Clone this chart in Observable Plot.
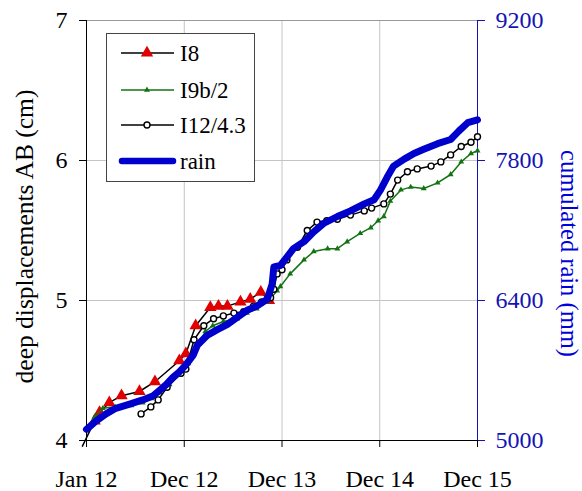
<!DOCTYPE html>
<html><head><meta charset="utf-8">
<script src="https://cdn.jsdelivr.net/npm/d3@7"></script>
<script src="https://cdn.jsdelivr.net/npm/@observablehq/plot@0.6"></script>
<style>
body{margin:0;background:#fff;}
#wrap{position:relative;width:582px;height:491px;font-family:"Liberation Serif","Times New Roman",serif;}
#legend{position:absolute;left:106px;top:33px;width:147px;height:147px;border:1px solid #444;background:#fff;}
#legend svg{display:block;}
</style></head><body><div id="wrap"><div id="legend"></div></div>
<script>
// x in months since Jan 2012 (axis labels evenly spaced)
const xTickMonths = [0, 12, 24, 36, 48];
const xTickLabels = ["Jan 12", "Dec 12", "Dec 13", "Dec 14", "Dec 15"];
const dispTicks = [4, 5, 6, 7];
const rainTicks = [5000, 6400, 7800, 9200];
const seriesNames = ["I8", "I9b/2", "I12/4.3", "rain"];
const leftTitle = "deep displacements AB (cm)";
const rightTitle = "cumulated rain (mm)";

const i8Month = [-0.5, 1.0, 1.6, 2.8, 4.3, 6.5, 8.4, 11.4, 12.2, 13.4, 15.2, 16.2, 17.3, 18.9, 20.1, 21.4, 22.4];
const i8Disp  = [3.96, 4.14, 4.20, 4.27, 4.32, 4.35, 4.42, 4.57, 4.62, 4.82, 4.95, 4.96, 4.96, 4.99, 5.01, 5.06, 5.00];

const i9Month = [0, 1.0, 2.0, 3.5, 5.5, 6.9, 8.0, 9.0, 10.2, 11.5, 12.5, 13.5, 14.6, 15.5, 16.8, 18.5, 19.7, 20.9, 22.2, 23.4, 23.8, 25.0, 26.7, 27.9, 29.6, 30.8, 32.0, 33.6, 34.9, 35.8, 36.5, 37.3, 38.6, 39.8, 41.4, 43.1, 44.7, 46.0, 47.2, 48.0];
const i9Disp  = [4.08, 4.17, 4.23, 4.24, 4.25, 4.27, 4.30, 4.34, 4.40, 4.47, 4.55, 4.66, 4.78, 4.82, 4.85, 4.87, 4.91, 4.94, 4.99, 5.07, 5.10, 5.19, 5.29, 5.35, 5.37, 5.37, 5.42, 5.48, 5.52, 5.57, 5.60, 5.71, 5.79, 5.81, 5.80, 5.84, 5.90, 5.99, 6.05, 6.07];

const i12Month = [6.7, 7.9, 8.8, 9.9, 11.6, 12.2, 13.2, 14.4, 15.6, 16.8, 18.1, 19.3, 20.5, 21.5, 22.6, 23.0, 23.4, 24.0, 24.6, 25.9, 27.1, 28.3, 29.5, 30.8, 32.4, 34.1, 35.0, 36.5, 37.3, 38.2, 39.4, 40.6, 42.3, 43.5, 44.7, 46.0, 47.2, 48.0];
const i12Disp  = [4.19, 4.24, 4.29, 4.38, 4.48, 4.51, 4.72, 4.82, 4.87, 4.89, 4.91, 4.92, 4.96, 4.99, 5.02, 5.08, 5.19, 5.22, 5.29, 5.38, 5.50, 5.56, 5.57, 5.58, 5.61, 5.64, 5.66, 5.69, 5.76, 5.86, 5.92, 5.94, 5.96, 5.99, 6.04, 6.10, 6.13, 6.17];

const rainMonth = [0, 1.2, 2.4, 3.6, 5.3, 6.9, 8.2, 9.0, 9.8, 10.6, 11.4, 12.2, 13.1, 13.6, 14.8, 16.0, 17.3, 18.5, 19.7, 20.9, 22.2, 22.8, 23.0, 23.8, 24.6, 25.4, 26.7, 27.9, 29.1, 30.8, 32.4, 34.1, 35.3, 36.1, 36.9, 37.7, 39.0, 40.2, 41.4, 43.1, 44.7, 45.7, 46.8, 48.0];
const rainMm    = [5112, 5196, 5266, 5322, 5364, 5406, 5448, 5504, 5560, 5630, 5686, 5756, 5854, 5952, 6050, 6106, 6162, 6232, 6302, 6344, 6414, 6568, 6736, 6750, 6834, 6918, 6988, 7086, 7170, 7240, 7296, 7366, 7408, 7506, 7632, 7744, 7814, 7870, 7912, 7968, 8010, 8094, 8178, 8206];

const colors = {i8: "#e00000", i9: "#137313", i12: "#000000", rain: "#0000cc"};
const rainToDisp = r => 4 + (r - 5000) / 1400;
const dispToRain = d => String(Math.round(5000 + (d - 4) * 1400));

const zip = (xs, ys) => xs.map((x, i) => ({x, y: ys[i]}));
const i8 = zip(i8Month, i8Disp);
const i9 = zip(i9Month, i9Disp);
const i12 = zip(i12Month, i12Disp);
const rain = rainMonth.map((x, i) => ({x, y: rainToDisp(rainMm[i])}));

const font = '"Liberation Serif","Times New Roman",serif';

const chart = Plot.plot({
  width: 582, height: 491,
  marginLeft: 86, marginRight: 105, marginTop: 20, marginBottom: 51,
  style: {fontFamily: font, background: "white", overflow: "visible"},
  x: {domain: [0, 48]},
  y: {domain: [4, 7]},
  marks: [
    Plot.gridX(xTickMonths.slice(1, 4), {stroke: "#c4c4c4", strokeOpacity: 1}),
    Plot.gridY(dispTicks.slice(1, 3), {stroke: "#c4c4c4", strokeOpacity: 1}),
    Plot.ruleY([7], {stroke: "#9a9a9a"}),
    Plot.axisX(xTickMonths, {tickSize: 7, tickPadding: 22, fontSize: 24, label: null, color: "black",
      tickFormat: d => xTickLabels[xTickMonths.indexOf(d)]}),
    Plot.axisY(dispTicks, {anchor: "left", tickSize: 7, tickPadding: 12, fontSize: 24, label: null, color: "black",
      tickFormat: d => String(d)}),
    Plot.axisY(rainTicks.map(rainToDisp), {anchor: "right", tickSize: 7, tickPadding: 11, fontSize: 24, label: null,
      color: "#1414b4", tickFormat: dispToRain}),
    Plot.ruleX([0], {stroke: "black"}),
    Plot.ruleY([4], {stroke: "black"}),
    Plot.ruleX([48], {stroke: "#1414b4"}),
    Plot.text([leftTitle], {frameAnchor: "left", textAnchor: "middle", rotate: -90, dx: -62, dy: 6, fontSize: 25.5, fill: "black"}),
    Plot.text([rightTitle], {frameAnchor: "right", textAnchor: "middle", rotate: 90, dx: 91, dy: 23, fontSize: 24.5, fill: "#0000dd"}),
    // I8
    Plot.line(i8, {x: "x", y: "y", stroke: "black", strokeWidth: 1.5}),
    Plot.dot(i8.slice(1), {x: "x", y: "y", symbol: "triangle", r: 4.6, fill: colors.i8, stroke: "none"}),
    // I9b/2
    Plot.line(i9, {x: "x", y: "y", stroke: colors.i9, strokeWidth: 1.5}),
    Plot.dot(i9, {x: "x", y: "y", symbol: "triangle", r: 2.2, fill: colors.i9, stroke: "none"}),
    // I12/4.3
    Plot.line(i12, {x: "x", y: "y", stroke: "black", strokeWidth: 1.5}),
    Plot.dot(i12, {x: "x", y: "y", r: 3, fill: "white", stroke: "black", strokeWidth: 1.4}),
    // rain
    Plot.line(rain, {x: "x", y: "y", stroke: colors.rain, strokeWidth: 7, strokeLinejoin: "round"})
  ]
});
const wrap = document.getElementById("wrap");
wrap.insertBefore(chart, wrap.firstChild);

// legend
const rows = [19, 56, 91, 127];
const tri = d3.symbol(d3.symbolTriangle, Math.PI * 4.6 * 4.6)();
const triS = d3.symbol(d3.symbolTriangle, Math.PI * 2.2 * 2.2)();
const sw = [
  `<line x1="14" x2="67" y1="${rows[0]}" y2="${rows[0]}" stroke="black" stroke-width="1.5"/><path d="${tri}" transform="translate(40,${rows[0]})" fill="${colors.i8}"/>`,
  `<line x1="14" x2="67" y1="${rows[1]}" y2="${rows[1]}" stroke="${colors.i9}" stroke-width="1.5"/><path d="${triS}" transform="translate(40,${rows[1]})" fill="${colors.i9}"/>`,
  `<line x1="14" x2="67" y1="${rows[2]}" y2="${rows[2]}" stroke="black" stroke-width="1.5"/><circle cx="40" cy="${rows[2]}" r="3" fill="white" stroke="black" stroke-width="1.4"/>`,
  `<line x1="15" x2="66" y1="${rows[3]}" y2="${rows[3]}" stroke="${colors.rain}" stroke-width="6.5" stroke-linecap="round"/>`
];
let svg = `<svg width="147" height="147" font-family='${font}' font-size="23">`;
seriesNames.forEach((n, i) => {
  svg += sw[i] + `<text x="73" y="${rows[i]}" dy="0.35em" fill="black">${n}</text>`;
});
svg += `</svg>`;
document.getElementById("legend").innerHTML = svg;
</script></body></html>
